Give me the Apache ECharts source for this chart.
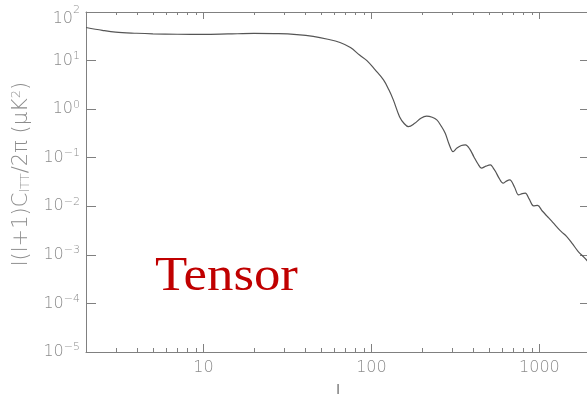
<!DOCTYPE html>
<html>
<head>
<meta charset="utf-8">
<script src="https://cdn.jsdelivr.net/npm/echarts@6/dist/echarts.min.js"></script>
<style>html,body{margin:0;padding:0;background:#fff;}#c{width:587px;height:394px;}</style>
</head>
<body>
<div id="c"></div>
<script>
// multipole l
const ell = [2, 2.5, 3, 4, 5, 7, 10, 14, 20, 28, 36, 45, 55, 65, 75, 85, 94, 105, 118, 127, 135, 147, 157, 166, 181, 197, 213, 230, 245, 260, 275, 290, 306, 323, 343, 363, 385, 407, 430, 452, 480, 511, 530, 548, 575, 608, 636, 666, 710, 752, 790, 824, 870, 922, 974, 1040, 1106, 1180, 1264, 1350, 1454, 1570, 1702, 1850, 2000];
// l(l+1)C_l/2pi in muK^2
const power = [48, 42, 38.5, 36.5, 35.5, 34.8, 34.6, 35.3, 36.2, 35.8, 34.2, 31.5, 27.5, 23.5, 18.5, 13, 10, 6.5, 4.0, 2.5, 1.55, 0.70, 0.50, 0.437, 0.51, 0.65, 0.72, 0.68, 0.60, 0.45, 0.32, 0.19, 0.134, 0.158, 0.178, 0.183, 0.15, 0.105, 0.075, 0.061, 0.067, 0.071, 0.062, 0.052, 0.038, 0.0299, 0.0330, 0.0349, 0.025, 0.0172, 0.0182, 0.0186, 0.0140, 0.0102, 0.0104, 0.0080, 0.00635, 0.0050, 0.00382, 0.0030, 0.00238, 0.0017, 0.00117, 0.00088, 0.00065];
const xMajor = [10, 100, 1000];
const xMinor = [2,3,4,5,6,7,8,9,20,30,40,50,60,70,80,90,200,300,400,500,600,700,800,900];
const yTicks = [1e-5, 1e-4, 1e-3, 1e-2, 1e-1, 1, 10, 100];
const xName = 'l';
const label = 'Tensor';
const xMin = 2, xMax = 2000;

const axisCol = '#808080';
const txtCol = '#8c8c8c';
const font = 'DejaVu Sans';

function xAxisMain(pos, len, labels) {
  return {
    type: 'log', logBase: 10, min: xMin, max: xMax, position: pos, gridIndex: 0,
    axisLine: {show: true, lineStyle: {color: axisCol, width: 1}},
    axisTick: {show: true, inside: true, length: len, lineStyle: {color: axisCol, width: 1}},
    axisLabel: labels ? {show: true, margin: 8, color: txtCol, fontFamily: font, fontSize: 16, fontWeight: 200,
      showMinLabel: false, showMaxLabel: false,
      formatter: v => (xMajor.indexOf(Math.round(v)) >= 0 ? String(Math.round(v)) : '')} : {show: false},
    splitLine: {show: false}, minorTick: {show: false}
  };
}
function yAxisDef(pos, labels) {
  return {
    type: 'log', logBase: 10, min: yTicks[0], max: yTicks[yTicks.length - 1], position: pos,
    axisLine: {show: true, lineStyle: {color: axisCol, width: 1}},
    axisTick: {show: true, inside: true, length: 10, lineStyle: {color: axisCol, width: 1}},
    axisLabel: labels ? {show: true, margin: 6, color: txtCol, fontFamily: font, fontWeight: 200,
      formatter: v => {
        const e = Math.round(Math.log10(v));
        const s = e < 0 ? '\u2212' + (-e) : String(e);
        if (e === 2) return '{bt|10}{st|' + s + '}';
        return '{b|10}{s|' + s + '}';
      },
      rich: {
        b: {fontSize: 16, color: txtCol, fontFamily: font, fontWeight: 200},
        s: {fontSize: 11, color: txtCol, fontFamily: font, fontWeight: 200, padding: [0, 0, 9, 0]},
        bt: {fontSize: 16, color: txtCol, fontFamily: font, fontWeight: 200, padding: [14, 0, 0, 0]},
        st: {fontSize: 11, color: txtCol, fontFamily: font, fontWeight: 200, padding: [6, 0, 9, 0]}
      }} : {show: false},
    splitLine: {show: false}, minorTick: {show: false}
  };
}

// minor log ticks (2..9 per decade) drawn on bottom and top frame via the axes' scales
function minorTicks(params, api) {
  const v = api.value(0);
  const yLo = api.coord([v, yTicks[0]]);
  const yHi = api.coord([v, yTicks[yTicks.length - 1]]);
  const st = {stroke: axisCol, lineWidth: 1};
  return {type: 'group', children: [
    {type: 'line', shape: {x1: Math.round(yLo[0]) + 0.5, y1: yLo[1], x2: Math.round(yLo[0]) + 0.5, y2: yLo[1] - 4}, style: st},
    {type: 'line', shape: {x1: Math.round(yHi[0]) + 0.5, y1: yHi[1], x2: Math.round(yHi[0]) + 0.5, y2: yHi[1] + 3}, style: st}
  ]};
}

const chart = echarts.init(document.getElementById('c'), null, {renderer: 'canvas'});
chart.setOption({
  animation: false,
  backgroundColor: '#ffffff',
  grid: {left: 86, top: 12, width: 504, height: 340, containLabel: false, outerBoundsMode: 'none'},
  xAxis: [
    Object.assign(xAxisMain('bottom', 8, true), {name: xName, nameLocation: 'middle', nameGap: 33,
      nameTextStyle: {color: '#777', fontFamily: font, fontSize: 15}}),
    xAxisMain('top', 7, false)
  ],
  yAxis: [yAxisDef('left', true), yAxisDef('right', false)],
  series: [{
    type: 'line', xAxisIndex: 0, yAxisIndex: 0,
    data: ell.map((l, i) => [l, power[i]]),
    showSymbol: false, smooth: 0.35,
    lineStyle: {color: '#555555', width: 1.2}
  }, {
    type: 'custom', xAxisIndex: 0, yAxisIndex: 0, clip: false, silent: true,
    data: xMinor.map(v => [v]),
    renderItem: minorTicks
  }],
  graphic: [
    {type: 'text', x: 22, y: 174, rotation: Math.PI / 2,
      style: {text: 'l(l+1)C{sub|lTT}/2\u03c0 (\u03bcK{sup|2})', fill: txtCol, font: '200 21px "DejaVu Sans"',
        align: 'center', verticalAlign: 'middle',
        rich: {
          sub: {fontSize: 13, fill: txtCol, fontFamily: font, fontWeight: 200, padding: [8, 0, 0, 0]},
          sup: {fontSize: 13, fill: txtCol, fontFamily: font, fontWeight: 200, padding: [0, 0, 10, 0]}
        }}},
    {type: 'text', x: 155, y: 253, scaleX: 1.1,
      style: {text: label, fill: '#c00000', font: '48px "Liberation Serif"', verticalAlign: 'top'}}
  ]
});
</script>
</body>
</html>
